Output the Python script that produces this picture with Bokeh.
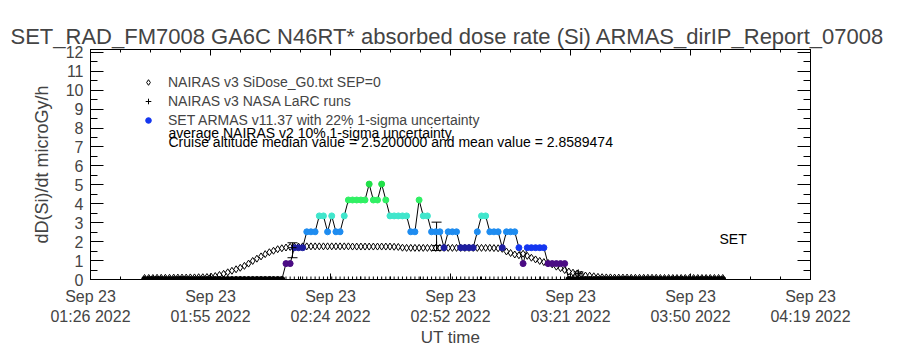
import numpy as np
import pandas as pd
from bokeh.plotting import figure
from bokeh.models import (ColumnDataSource, Range1d, FixedTicker, SingleIntervalTicker,
                          LinearAxis, Legend, LegendItem, Label, Whisker, TeeHead)
from bokeh.embed import file_html
from bokeh.resources import INLINE

# ---------------- data ----------------
title_text = "SET_RAD_FM7008  GA6C N46RT* absorbed dose rate (Si) ARMAS_dirIP_Report_07008"
axis_start = pd.Timestamp("2022-09-23 01:26:20")
tick_step_min = 28.85
tick_labels = ["Sep 23\n01:26 2022", "Sep 23\n01:55 2022", "Sep 23\n02:24 2022",
               "Sep 23\n02:52 2022", "Sep 23\n03:21 2022", "Sep 23\n03:50 2022",
               "Sep 23\n04:19 2022"]

# one sample per minute, first sample at 01:39:20 UT
sample_start = pd.Timestamp("2022-09-23 01:39:20")

# NAIRAS v3 SiDose_G0 (diamonds)
sidose = [0.08, 0.08, 0.08, 0.09, 0.09, 0.09, 0.09, 0.10, 0.10, 0.10,
          0.10, 0.11, 0.11, 0.12, 0.12, 0.13, 0.15,
          0.18, 0.24, 0.30, 0.38, 0.46, 0.54, 0.62, 0.72, 0.84, 0.98,
          1.10, 1.22, 1.34, 1.44, 1.52, 1.60, 1.65, 1.69, 1.72,
          1.74, 1.74, 1.75, 1.75, 1.75, 1.75, 1.75, 1.75, 1.75, 1.75,
          1.75, 1.75, 1.75, 1.75, 1.74, 1.74, 1.74, 1.74, 1.74, 1.74,
          1.74, 1.74, 1.74, 1.74, 1.73, 1.72,
          1.68, 1.67, 1.67, 1.67, 1.67, 1.67, 1.67, 1.67, 1.67, 1.67,
          1.67, 1.67, 1.67, 1.67, 1.67, 1.67, 1.67, 1.67, 1.67, 1.67,
          1.67, 1.67, 1.66, 1.65,
          1.62, 1.48, 1.40, 1.32, 1.28, 1.36, 1.25, 1.15, 1.06, 0.98,
          0.92, 0.87, 0.80, 0.68, 0.60, 0.50, 0.42, 0.36, 0.32, 0.26,
          0.21, 0.20, 0.17, 0.14,
          0.12, 0.11, 0.11, 0.10, 0.10, 0.10, 0.10, 0.09, 0.09, 0.09,
          0.09, 0.09, 0.09, 0.09, 0.08, 0.08, 0.08, 0.08, 0.08, 0.08,
          0.08, 0.08, 0.08, 0.08, 0.08, 0.08, 0.08, 0.08, 0.08, 0.08]

# SET ARMAS v11.37 dose rate (quantised)
armas = [0.0, 0.0, 0.0, 0.0, 0.0, 0.0, 0.0, 0.0, 0.0, 0.0,
         0.0, 0.0, 0.0, 0.0, 0.0, 0.0, 0.0, 0.0, 0.0, 0.0,
         0.0, 0.0, 0.0, 0.0, 0.0, 0.0, 0.0, 0.0, 0.0, 0.0,
         0.0, 0.0, 0.0, 0.0,
         0.84, 0.84, 1.68, 1.68, 1.68, 2.52, 2.52, 2.52, 3.36, 3.36,
         2.52, 3.36, 2.52, 2.52, 3.36, 4.20, 4.20, 4.20, 4.20, 4.20,
         5.04, 4.20, 4.20, 5.04, 4.20, 3.36, 3.36, 3.36, 3.36, 3.36,
         2.52, 2.52, 4.20, 3.36, 3.36, 2.52, 2.52, 2.52, 1.68, 2.52,
         2.52, 2.52, 1.68, 1.68, 1.68, 1.68, 2.52, 3.36, 3.36, 2.52,
         2.52, 2.52, 1.68, 2.52, 2.52, 2.52, 1.68, 0.84, 1.68, 1.68,
         1.68, 1.68, 1.68, 0.84, 0.84, 0.84, 0.84, 0.84,
         0.0, 0.0, 0.0, 0.0, 0.0, 0.0, 0.0, 0.0, 0.0, 0.0,
         0.0, 0.0, 0.0, 0.0, 0.0, 0.0, 0.0, 0.0, 0.0, 0.0,
         0.0, 0.0, 0.0, 0.0, 0.0, 0.0, 0.0, 0.0, 0.0, 0.0,
         0.0, 0.0, 0.0, 0.0, 0.0, 0.0, 0.0, 0.0]
# sample indices whose 1.68 points are drawn in the darker blue
armas_dark_blue_idx = [36, 37, 38, 72, 76, 77, 78, 79, 86]

# NAIRAS v3 NASA LaRC runs
larc_times = ["2022-09-23 02:14:54", "2022-09-23 02:49:32", "2022-09-23 03:23:38"]
larc_val = [1.68, 1.80, 0.32]
larc_lo = [1.15, 1.53, 0.24]
larc_hi = [1.94, 3.03, 0.40]
larc_floor = [0.0] * len(sidose)   # LaRC runs at zero along the track

median_value = "2.5200000"
mean_value = "2.8589474"

# ---------------- build ----------------
FONT = "Liberation Sans"
times = pd.date_range(sample_start, periods=len(sidose), freq="1min")

level_colours = {0.0: "#000000", 0.84: "#4b0c84", 1.68: "#1436f0", 2.52: "#1e8cf0",
                 3.36: "#40e6cc", 4.20: "#30f064", 5.04: "#20e048"}
armas_col = [level_colours[v] for v in armas]
for i in armas_dark_blue_idx:
    armas_col[i] = "#1e1ea0"

src_sid = ColumnDataSource(dict(t=times, v=sidose))
src_arm = ColumnDataSource(dict(t=times, v=armas, c=armas_col))
src_floor = ColumnDataSource(dict(t=times, v=larc_floor))
src_larc = ColumnDataSource(dict(t=pd.to_datetime(larc_times), v=larc_val, lo=larc_lo, hi=larc_hi))

x0_ms = axis_start.value // 10**6
step_ms = int(round(tick_step_min * 60000))
tick_ms = [int(x0_ms + k * step_ms) for k in range(len(tick_labels))]
minor_ms = [int(x0_ms + k * step_ms / 4) for k in range(4 * (len(tick_labels) - 1) + 1)]
y_ticks = list(range(0, 13))

p = figure(width=900, height=350, output_backend="svg", toolbar_location=None,
           x_range=Range1d(tick_ms[0], tick_ms[-1]), y_range=Range1d(0, 12.15),
           x_axis_type=None, y_axis_type=None,
           min_border_left=90, min_border_right=90, min_border_top=49, min_border_bottom=71)
p.background_fill_color = "white"
p.border_fill_color = "white"
p.outline_line_color = "black"

p.title.text = title_text
p.title.align = "center"
p.title.text_font = FONT
p.title.text_font_size = "22px"
p.title.text_font_style = "normal"
p.title.standoff = 2

xticker = FixedTicker(ticks=tick_ms, minor_ticks=minor_ms)
yticker = SingleIntervalTicker(interval=1, num_minor_ticks=2)

def style_axis(ax, major_in, minor_in):
    ax.major_tick_out = 0
    ax.minor_tick_out = 0
    ax.major_tick_in = major_in
    ax.minor_tick_in = minor_in
    ax.axis_line_color = "black"
    ax.major_tick_line_color = "black"
    ax.minor_tick_line_color = "black"
    ax.major_label_text_font = FONT
    ax.axis_label_text_font = FONT
    ax.axis_label_text_font_style = "normal"

xb = LinearAxis(ticker=xticker, axis_label="UT time",
                major_label_overrides={t: l for t, l in zip(tick_ms, tick_labels)})
style_axis(xb, 6, 3)
xb.major_label_text_font_size = "16px"
xb.major_label_standoff = 8
xb.axis_label_text_font_size = "17px"
xb.axis_label_standoff = 0
p.add_layout(xb, "below")

xt = LinearAxis(ticker=xticker, major_label_overrides={t: "" for t in tick_ms})
style_axis(xt, 6, 3)
xt.major_label_standoff = 0
p.add_layout(xt, "above")

yl = LinearAxis(ticker=yticker, axis_label="dD(Si)/dt microGy/h")
style_axis(yl, 13, 7)
yl.major_label_text_font_size = "16px"
yl.major_label_standoff = 7
yl.axis_label_text_font_size = "18px"
yl.axis_label_standoff = 11
p.add_layout(yl, "left")

yr = LinearAxis(ticker=yticker, major_label_overrides={t: "" for t in y_ticks})
style_axis(yr, 13, 7)
yr.major_label_standoff = 0
p.add_layout(yr, "right")

# glyphs
p.scatter(x="t", y="v", source=src_floor, marker="cross", size=6, line_color="black", line_width=1)
r_sid = p.scatter(x="t", y="v", source=src_sid, marker="diamond", size=7,
                  fill_color=None, line_color="black", line_width=1)
p.line(x="t", y="v", source=src_arm, line_color="black", line_width=1)
r_arm = p.scatter(x="t", y="v", source=src_arm, marker="circle", size=6,
                  fill_color="c", line_color="c", line_width=1)
p.add_layout(Whisker(base="t", lower="lo", upper="hi", source=src_larc, dimension="height",
                     line_color="black", line_width=1,
                     lower_head=TeeHead(size=10, line_color="black", line_width=1),
                     upper_head=TeeHead(size=10, line_color="black", line_width=1)))
r_larc = p.scatter(x="t", y="v", source=src_larc, marker="cross", size=8,
                   line_color="black", line_width=1)

bright_idx = armas_col.index("#1436f0")
legend = Legend(items=[
    LegendItem(label="NAIRAS v3 SiDose_G0.txt SEP=0", renderers=[r_sid]),
    LegendItem(label="NAIRAS v3 NASA LaRC runs", renderers=[r_larc]),
    LegendItem(label="SET ARMAS v11.37 with 22% 1-sigma uncertainty", renderers=[r_arm], index=bright_idx),
], location=(51, 151), orientation="vertical", padding=0, margin=0, spacing=3,
    glyph_width=14, glyph_height=14, label_height=14, label_standoff=13,
    border_line_alpha=0, background_fill_alpha=0,
    label_text_font=FONT, label_text_font_size="14px")
p.add_layout(legend)

for txt, y in [("average NAIRAS v2 10% 1-sigma uncertainty", 147),
               ("Cruise altitude median value = " + median_value + " and mean value = " + mean_value, 138)]:
    p.add_layout(Label(x=78, y=y, x_units="screen", y_units="screen", text=txt,
                       text_baseline="middle", text_align="left",
                       text_font=FONT, text_font_size="14px", text_color="black"))

p.add_layout(Label(x=629, y=41, x_units="screen", y_units="screen", text="SET",
                   text_baseline="middle", text_align="left",
                   text_font=FONT, text_font_size="14px", text_color="black"))

open("out.html", "w").write(file_html(p, INLINE))
